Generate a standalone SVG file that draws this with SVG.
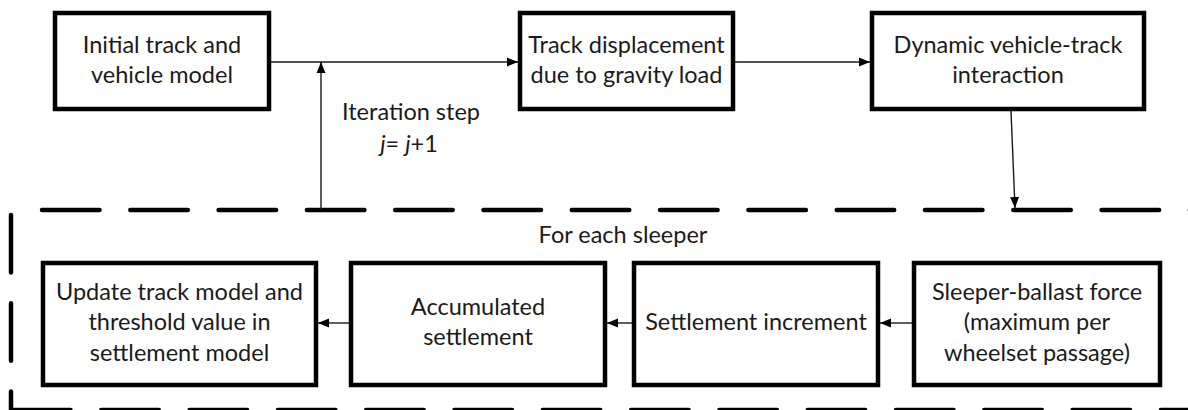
<svg xmlns="http://www.w3.org/2000/svg" width="1188" height="410" viewBox="0 0 1188 410">
  <style>
    .box { fill: #ffffff; stroke: #000000; stroke-width: 4.5; }
    .lbl { font-family: Lato, "Open Sans", "Liberation Sans", sans-serif; font-size: 23.5px; fill: #1a1a1a; text-anchor: middle; }
    .conn { stroke: #1a1a1a; stroke-width: 1.4; fill: none; }
    .dash { stroke: #000000; stroke-width: 4.5; fill: none; stroke-dasharray: 57.5 30.8; stroke-linecap: round; }
  </style>
  <defs>
    <marker id="arrow" markerUnits="userSpaceOnUse" markerWidth="12" markerHeight="10" refX="11" refY="5" orient="auto">
      <path d="M0,0.5 L11,5 L0,9.5 Z" fill="#000000"/>
    </marker>
  </defs>
  <rect width="1188" height="410" fill="#ffffff"/>

  <g id="frame">
    <line class="dash" x1="42" y1="210" x2="1200" y2="210"/>
    <line class="dash" x1="11" y1="215" x2="11" y2="420" stroke-dasharray="55 32 55 31 60 200"/>
    <line class="dash" x1="13" y1="410" x2="1200" y2="410" stroke-dasharray="54 33.8 57.5 30.8"/>
  </g>

  <g id="connectors">
    <line class="conn" x1="271" y1="62" x2="518" y2="62" marker-end="url(#arrow)"/>
    <line class="conn" x1="735" y1="62" x2="870" y2="62" marker-end="url(#arrow)"/>
    <line class="conn" x1="321" y1="210" x2="321" y2="62" marker-end="url(#arrow)"/>
    <line class="conn" x1="1011" y1="111" x2="1015" y2="208" marker-end="url(#arrow)"/>
    <line class="conn" x1="912" y1="323" x2="880" y2="323" marker-end="url(#arrow)"/>
    <line class="conn" x1="632" y1="323" x2="607" y2="323" marker-end="url(#arrow)"/>
    <line class="conn" x1="349" y1="323" x2="318" y2="323" marker-end="url(#arrow)"/>
  </g>

  <g id="iteration-label">
    <text class="lbl" x="411" y="120">Iteration step</text>
    <text class="lbl" x="409" y="152"><tspan font-style="italic">j</tspan>= <tspan font-style="italic">j</tspan>+1</text>
  </g>

  <g id="for-each-label">
    <text class="lbl" x="623" y="243">For each sleeper</text>
  </g>

  <g id="initial-model">
    <rect class="box" x="55" y="13" width="214" height="96"/>
    <text class="lbl" x="162" y="53">Initial track and</text>
    <text class="lbl" x="162" y="83">vehicle model</text>
  </g>

  <g id="track-displacement">
    <rect class="box" x="520" y="13" width="213" height="96"/>
    <text class="lbl" x="626.5" y="53">Track displacement</text>
    <text class="lbl" x="626.5" y="83">due to gravity load</text>
  </g>

  <g id="dynamic-interaction">
    <rect class="box" x="872" y="13" width="272" height="96"/>
    <text class="lbl" x="1008" y="53">Dynamic vehicle-track</text>
    <text class="lbl" x="1008" y="83">interaction</text>
  </g>

  <g id="update-model">
    <rect class="box" x="43" y="263" width="273" height="122"/>
    <text class="lbl" x="179.5" y="300">Update track model and</text>
    <text class="lbl" x="179.5" y="330">threshold value in</text>
    <text class="lbl" x="179.5" y="361">settlement model</text>
  </g>

  <g id="accumulated-settlement">
    <rect class="box" x="351" y="263" width="254" height="122"/>
    <text class="lbl" x="478" y="315">Accumulated</text>
    <text class="lbl" x="478" y="345">settlement</text>
  </g>

  <g id="settlement-increment">
    <rect class="box" x="634" y="263" width="244" height="122"/>
    <text class="lbl" x="756" y="330">Settlement increment</text>
  </g>

  <g id="sleeper-ballast-force">
    <rect class="box" x="914" y="263" width="246" height="122"/>
    <text class="lbl" x="1037" y="300">Sleeper-ballast force</text>
    <text class="lbl" x="1037" y="330">(maximum per</text>
    <text class="lbl" x="1037" y="361">wheelset passage)</text>
  </g>
</svg>
